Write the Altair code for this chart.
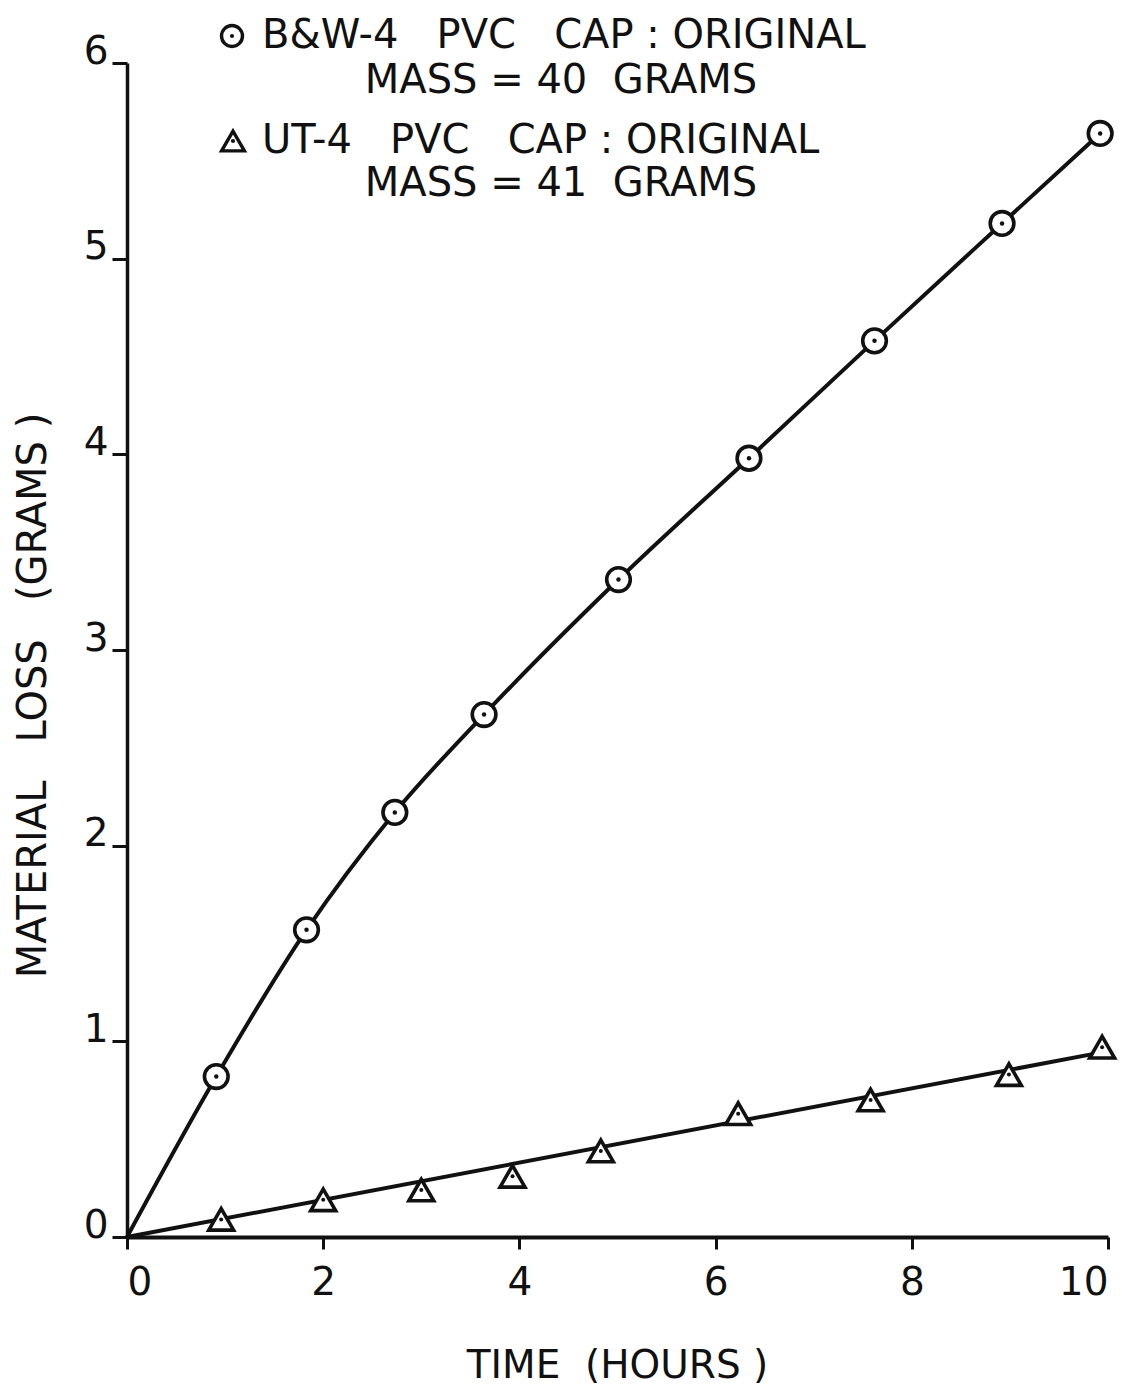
import altair as alt
import pandas as pd

# --- data ---
bw_hours = [0.91, 1.83, 2.73, 3.64, 5.01, 6.34, 7.62, 8.92, 9.92]
bw_loss = [0.82, 1.57, 2.17, 2.67, 3.36, 3.98, 4.58, 5.18, 5.64]
bw_curve_hours = [0.0] + bw_hours
bw_curve_loss = [0.0] + bw_loss

ut_hours = [0.96, 2.00, 3.00, 3.93, 4.83, 6.23, 7.58, 8.99, 9.94]
ut_loss = [0.09, 0.19, 0.24, 0.31, 0.44, 0.63, 0.70, 0.83, 0.97]
ut_fit_hours = [0.0, 9.95]
ut_fit_loss = [0.0, 0.945]

x_ticks = [0, 2, 4, 6, 8, 10]
y_ticks = [0, 1, 2, 3, 4, 5, 6]

NB = "\u00a0"
legend_lines = [
    "B&W-4" + NB * 3 + "PVC" + NB * 3 + "CAP" + NB + ":" + NB + "ORIGINAL",
    "MASS" + NB + "=" + NB + "40" + NB * 2 + "GRAMS",
    "UT-4" + NB * 3 + "PVC" + NB * 3 + "CAP" + NB + ":" + NB + "ORIGINAL",
    "MASS" + NB + "=" + NB + "41" + NB * 2 + "GRAMS",
]
x_title = "TIME" + NB * 2 + "(HOURS" + NB + ")"
y_title = "MATERIAL" + NB * 3 + "LOSS" + NB * 3 + "(GRAMS" + NB + ")"

FONT = "DejaVu Sans"
INK = "#111111"

bw_pts = pd.DataFrame({"hours": bw_hours, "loss": bw_loss})
bw_curve = pd.DataFrame({"hours": bw_curve_hours, "loss": bw_curve_loss})
ut_pts = pd.DataFrame({"hours": ut_hours, "loss": ut_loss})
ut_fit = pd.DataFrame({"hours": ut_fit_hours, "loss": ut_fit_loss})

W, H = 981, 1174

x_enc = alt.X(
    "hours:Q",
    scale=alt.Scale(domain=[0, 10], nice=False, zero=False),
    axis=alt.Axis(
        values=x_ticks,
        title=x_title,
        grid=False,
        domainColor=INK,
        domainWidth=4,
        tickColor=INK,
        tickWidth=3,
        tickSize=12,
        labelFont=FONT,
        labelFontSize=39,
        labelColor=INK,
        labelPadding=14,
        labelFlush=True,
        titleFont=FONT,
        titleFontSize=39,
        titleFontWeight="normal",
        titleColor=INK,
        titleX=490,
        titleY=128,
        titleBaseline="middle",
        titleAlign="center",
    ),
)
y_enc = alt.Y(
    "loss:Q",
    scale=alt.Scale(domain=[0, 6], nice=False, zero=False),
    axis=alt.Axis(
        values=y_ticks,
        title=y_title,
        grid=False,
        domainColor=INK,
        domainWidth=3.5,
        tickColor=INK,
        tickWidth=3,
        tickSize=15,
        labelFont=FONT,
        labelFontSize=39,
        labelColor=INK,
        labelPadding=4,
        labelBaseline="alphabetic",
        titleFont=FONT,
        titleFontSize=40,
        titleFontWeight="normal",
        titleColor=INK,
        titleX=-94,
        titleY=632,
        titleAngle=270,
        titleBaseline="middle",
        titleAlign="center",
    ),
)

curve = alt.Chart(bw_curve).mark_line(
    color=INK, strokeWidth=4, interpolate="monotone"
).encode(x=x_enc, y=y_enc)

fit = alt.Chart(ut_fit).mark_line(color=INK, strokeWidth=4).encode(x=x_enc, y=y_enc)

circles = alt.Chart(bw_pts).mark_point(
    shape="circle", size=560, filled=False, fill="white", fillOpacity=1,
    stroke=INK, strokeWidth=3.6, opacity=1
).encode(x=x_enc, y=y_enc)

tris = alt.Chart(ut_pts).mark_point(
    shape="triangle-up", size=620, filled=False, fill="white", fillOpacity=1,
    stroke=INK, strokeWidth=3.6, opacity=1
).encode(x=x_enc, y=y_enc)

dots_bw = alt.Chart(bw_pts).mark_point(
    shape="circle", size=20, filled=True, color=INK, opacity=1
).encode(x=x_enc, y=y_enc)

dots_ut = alt.Chart(ut_pts).mark_point(
    shape="circle", size=16, filled=True, color=INK, opacity=1
).encode(x=x_enc, y=y_enc)

# --- legend / annotation block at the top ---
def legend_text(txt, x, y, align):
    return alt.Chart(pd.DataFrame({"t": [txt]})).mark_text(
        font=FONT, fontSize=40, color=INK, align=align, baseline="middle"
    ).encode(text="t:N", x=alt.value(x), y=alt.value(y))

def legend_symbol(shape, size, x, y):
    sym = alt.Chart(pd.DataFrame({"k": [shape]})).mark_point(
        shape=shape, size=size, filled=False, fill="white", fillOpacity=1,
        stroke=INK, strokeWidth=3.4, opacity=1
    ).encode(x=alt.value(x), y=alt.value(y))
    dot = alt.Chart(pd.DataFrame({"k": [shape]})).mark_point(
        shape="circle", size=18, filled=True, color=INK, opacity=1
    ).encode(x=alt.value(x), y=alt.value(y))
    return sym + dot

leg = (
    legend_symbol("circle", 440, 105, -27)
    + legend_text(legend_lines[0], 135, -27, "left")
    + legend_text(legend_lines[1], 434, 18, "center")
    + legend_symbol("triangle-up", 520, 106, 78)
    + legend_text(legend_lines[2], 135, 78, "left")
    + legend_text(legend_lines[3], 434, 121, "center")
)

chart = alt.layer(curve, fit, circles, tris, dots_bw, dots_ut, leg).properties(
    width=W,
    height=H,
    autosize="none",
    padding={"left": 127, "top": 63, "right": 14, "bottom": 154},
    background="white",
).configure_view(stroke=None)

chart.save("out.html", embed_options={"renderer": "svg", "actions": False})
